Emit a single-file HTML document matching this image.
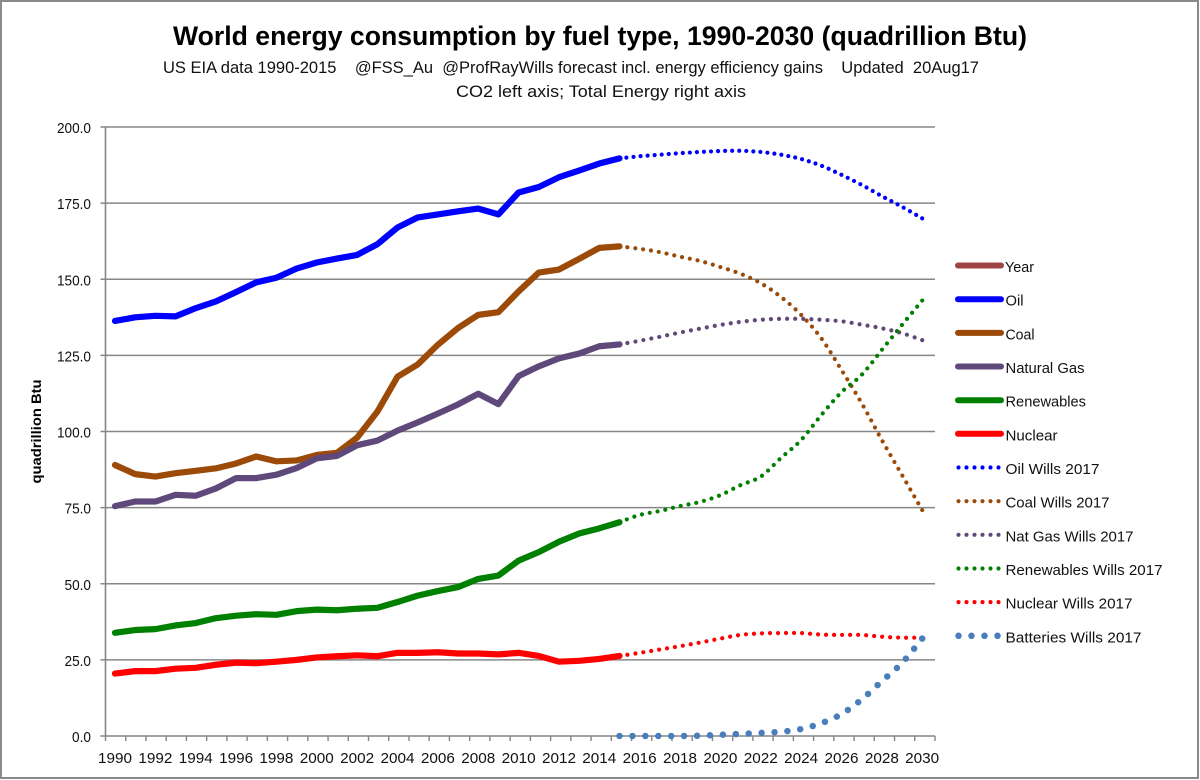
<!DOCTYPE html>
<html lang="en">
<head>
<meta charset="utf-8">
<title>World energy consumption by fuel type</title>
<style>
html,body{margin:0;padding:0;background:#fff;}
svg{display:block;font-family:"Liberation Sans",sans-serif;fill:#111;}
</style>
</head>
<body>
<svg id="chart" width="1200" height="780" viewBox="0 0 1200 780" xmlns="http://www.w3.org/2000/svg">
  <rect x="1" y="1" width="1197" height="777" fill="#fff" stroke="#8a8a8a" stroke-width="2"/>
  <text x="600" y="45" text-anchor="middle" font-size="27" font-weight="bold" fill="#000" textLength="854" lengthAdjust="spacingAndGlyphs">World energy consumption by fuel type, 1990-2030 (quadrillion Btu)</text>
  <text x="571" y="73" text-anchor="middle" font-size="17" textLength="816" lengthAdjust="spacingAndGlyphs" xml:space="preserve">US EIA data 1990-2015    @FSS_Au  @ProfRayWills forecast incl. energy efficiency gains    Updated  20Aug17</text>
  <text x="601" y="97" text-anchor="middle" font-size="17" textLength="290" lengthAdjust="spacingAndGlyphs">CO2 left axis; Total Energy right axis</text>
  <text transform="translate(41 431.5) rotate(-90)" text-anchor="middle" font-size="14" font-weight="bold" fill="#000" textLength="104" lengthAdjust="spacingAndGlyphs">quadrillion Btu</text>
  <g id="grid"></g>
  <g id="axes"></g>
  <g id="series"></g>
  <g font-size="15">
    <g><line x1="958" x2="1001" y1="265.5" y2="265.5" stroke="#a04545" stroke-width="6" stroke-linecap="round"/><text x="1005" y="272" textLength="29" lengthAdjust="spacingAndGlyphs">Year</text></g>
    <g><line x1="958" x2="1001" y1="299.2" y2="299.2" stroke="#0000ff" stroke-width="6" stroke-linecap="round"/><text x="1005.5" y="305.7" textLength="18" lengthAdjust="spacingAndGlyphs">Oil</text></g>
    <g><line x1="958" x2="1001" y1="332.9" y2="332.9" stroke="#9c4a07" stroke-width="6" stroke-linecap="round"/><text x="1005.5" y="339.4" textLength="29" lengthAdjust="spacingAndGlyphs">Coal</text></g>
    <g><line x1="958" x2="1001" y1="366.5" y2="366.5" stroke="#5f497a" stroke-width="6" stroke-linecap="round"/><text x="1005.5" y="373" textLength="79" lengthAdjust="spacingAndGlyphs">Natural Gas</text></g>
    <g><line x1="958" x2="1001" y1="400.2" y2="400.2" stroke="#008000" stroke-width="6" stroke-linecap="round"/><text x="1005.5" y="406.7" textLength="80.5" lengthAdjust="spacingAndGlyphs">Renewables</text></g>
    <g><line x1="958" x2="1001" y1="433.8" y2="433.8" stroke="#ff0000" stroke-width="6" stroke-linecap="round"/><text x="1005.5" y="440.3" textLength="52" lengthAdjust="spacingAndGlyphs">Nuclear</text></g>
    <g><line x1="958.5" x2="1001" y1="467.5" y2="467.5" stroke="#0000ff" stroke-width="4.2" stroke-linecap="round" stroke-dasharray="0 8"/><text x="1005.5" y="474" textLength="94" lengthAdjust="spacingAndGlyphs">Oil Wills 2017</text></g>
    <g><line x1="958.5" x2="1001" y1="501.2" y2="501.2" stroke="#9c4a07" stroke-width="4.2" stroke-linecap="round" stroke-dasharray="0 8"/><text x="1005.5" y="507.7" textLength="104" lengthAdjust="spacingAndGlyphs">Coal Wills 2017</text></g>
    <g><line x1="958.5" x2="1001" y1="534.8" y2="534.8" stroke="#5f497a" stroke-width="4.2" stroke-linecap="round" stroke-dasharray="0 8"/><text x="1005.5" y="541.3" textLength="128" lengthAdjust="spacingAndGlyphs">Nat Gas Wills 2017</text></g>
    <g><line x1="958.5" x2="1001" y1="568.5" y2="568.5" stroke="#008000" stroke-width="4.2" stroke-linecap="round" stroke-dasharray="0 8"/><text x="1005.5" y="575" textLength="157" lengthAdjust="spacingAndGlyphs">Renewables Wills 2017</text></g>
    <g><line x1="958.5" x2="1001" y1="602.1" y2="602.1" stroke="#ff0000" stroke-width="4.2" stroke-linecap="round" stroke-dasharray="0 8"/><text x="1005.5" y="608.6" textLength="127" lengthAdjust="spacingAndGlyphs">Nuclear Wills 2017</text></g>
    <g><line x1="958.5" x2="998" y1="635.8" y2="635.8" stroke="#4a7ebb" stroke-width="6.5" stroke-linecap="round" stroke-dasharray="0 13"/><text x="1005.5" y="642.3" textLength="136" lengthAdjust="spacingAndGlyphs">Batteries Wills 2017</text></g>
  </g>
</svg>
<script>
const firstYear = 1990;
const yearCount = 41;
const forecastStartYear = 2015;
const yTickValues = [0, 25, 50, 75, 100, 125, 150, 175, 200];
const xTickLabels = [1990,1992,1994,1996,1998,2000,2002,2004,2006,2008,2010,2012,2014,2016,2018,2020,2022,2024,2026,2028,2030];

const oilHistory = [136.3,137.5,138,137.8,140.5,142.7,145.8,149,150.5,153.5,155.5,156.8,158,161.5,167,170.3,171.3,172.3,173.2,171.3,178.5,180.3,183.5,185.7,188,189.7];
const coalHistory = [89,86,85.2,86.3,87.1,87.9,89.5,91.8,90.2,90.5,92.3,93,98,106.5,118,122,128.5,134,138.3,139.2,146,152.2,153.2,156.7,160.3,160.8];
const gasHistory = [75.5,77,77,79.2,78.9,81.3,84.7,84.7,85.8,88,91.2,92,95.5,97,100.3,103,105.9,108.9,112.4,109,118.2,121.4,124,125.6,128,128.6];
const renewablesHistory = [33.9,34.8,35.1,36.3,37.1,38.7,39.5,40,39.8,41,41.5,41.3,41.8,42.1,44,46.1,47.6,48.9,51.6,52.7,57.6,60.4,63.8,66.5,68.2,70.2];
const nuclearHistory = [20.5,21.3,21.3,22.1,22.4,23.4,24.1,23.9,24.4,25,25.8,26.2,26.5,26.2,27.3,27.3,27.5,27.1,27.1,26.8,27.3,26.3,24.4,24.7,25.3,26.3];

const oilForecast = [189.7,190.4,190.9,191.4,191.8,192.1,192.2,191.8,190.9,189.5,187.3,184.3,181,177.3,173.8,170];
const coalForecast = [160.8,160,158.9,157.4,156,154,151.8,148.7,144.2,138.3,130.6,120.2,109.3,97.2,85.7,74.2];
const gasForecast = [128.6,129.8,131.1,132.5,133.8,135,136,136.7,137,137,136.7,136.2,135.1,133.9,132.3,130];
const renewablesForecast = [70.2,72.6,73.9,75.5,76.9,79.1,82.4,85.2,91.3,97.2,105.4,112.9,118.6,126.8,135,143];
const nuclearForecast = [26.3,27.3,28.4,29.5,30.7,32,33.2,33.7,33.8,33.8,33.3,33.2,33.2,32.6,32.3,32.3];
const batteriesForecast = [0,0,0,0,0.1,0.4,0.7,1,1.4,2.3,4.2,7.2,12,18,24,32];

const NS = 'http://www.w3.org/2000/svg';
const plotLeft = 105.5, plotRight = 935, plotTop = 127, plotBottom = 736;
const yMax = 200;
function xPoint(year) { return 115 + (year - firstYear) * 20.18; }
function yScale(v) { return plotBottom - (v / yMax) * (plotBottom - plotTop); }
function make(tag, parent) {
  const el = document.createElementNS(NS, tag);
  parent.appendChild(el);
  return el;
}
function setAll(el, attrs) {
  for (const k in attrs) el.setAttribute(k, attrs[k]);
}

const gridG = document.getElementById('grid');
const axesG = document.getElementById('axes');
const seriesG = document.getElementById('series');

yTickValues.forEach(function (v) {
  const y = yScale(v);
  const line = make('line', gridG);
  
  
  setAll(line, { x1: 100.5, x2: plotRight, y1: y, y2: y, stroke: '#868686', 'stroke-width': 1.6 });
  const label = make('text', axesG);
  
  
  const txt = v.toFixed(1);
  setAll(label, { x: 91, y: y + 6, 'text-anchor': 'end', 'font-size': 15, textLength: txt.length === 5 ? 34 : txt.length === 4 ? 26.5 : 19, lengthAdjust: 'spacingAndGlyphs' });
  label.textContent = txt;
});

const yAxis = make('line', axesG);


setAll(yAxis, { x1: plotLeft, x2: plotLeft, y1: plotTop, y2: plotBottom, stroke: '#868686', 'stroke-width': 1.6 });

for (let i = 0; i <= yearCount; i++) {
  const x = plotLeft + i * (plotRight - plotLeft) / yearCount;
  const tick = make('line', axesG);
  
  
  setAll(tick, { x1: x, x2: x, y1: plotBottom, y2: plotBottom + 5, stroke: '#868686', 'stroke-width': 1.4 });
}

xTickLabels.forEach(function (yr) {
  const label = make('text', axesG);
  
  
  setAll(label, { x: xPoint(yr), y: 763, 'text-anchor': 'middle', 'font-size': 15, textLength: 34, lengthAdjust: 'spacingAndGlyphs' });
  label.textContent = yr;
});

function drawLine(values, startYear, color, width, name) {
  const pts = values.map(function (v, i) {
    return xPoint(startYear + i).toFixed(2) + ',' + yScale(v).toFixed(2);
  }).join(' ');
  const line = make('polyline', seriesG);
  
  
  setAll(line, { points: pts, fill: 'none', stroke: color, 'stroke-width': width, 'stroke-linecap': 'round', 'stroke-linejoin': 'round' });
}

function drawSmoothDotted(values, startYear, color, width, spacing, name) {
  const p = values.map(function (v, i) { return [xPoint(startYear + i), yScale(v)]; });
  let d = 'M' + p[0][0].toFixed(2) + ' ' + p[0][1].toFixed(2);
  for (let i = 0; i < p.length - 1; i++) {
    const a = p[Math.max(i - 1, 0)], b = p[i], c = p[i + 1], e = p[Math.min(i + 2, p.length - 1)];
    const c1x = b[0] + (c[0] - a[0]) / 6, c1y = b[1] + (c[1] - a[1]) / 6;
    const c2x = c[0] - (e[0] - b[0]) / 6, c2y = c[1] - (e[1] - b[1]) / 6;
    d += 'C' + c1x.toFixed(2) + ' ' + c1y.toFixed(2) + ' ' + c2x.toFixed(2) + ' ' + c2y.toFixed(2) + ' ' + c[0].toFixed(2) + ' ' + c[1].toFixed(2);
  }
  const path = make('path', seriesG);
  
  
  setAll(path, { d: d, fill: 'none', stroke: color, 'stroke-width': width, 'stroke-linecap': 'round' });
  const len = path.getTotalLength();
  const step = len / Math.round(len / spacing) - 0.001;
  path.setAttribute('stroke-dasharray', '0 ' + step.toFixed(3));
}

drawSmoothDotted(oilForecast, forecastStartYear, '#0000ff', 4.2, 7.1, 'oil-forecast-line');
drawSmoothDotted(coalForecast, forecastStartYear, '#9c4a07', 4.2, 8, 'coal-forecast-line');
drawSmoothDotted(gasForecast, forecastStartYear, '#5f497a', 4.2, 8, 'gas-forecast-line');
drawSmoothDotted(renewablesForecast, forecastStartYear, '#008000', 4.2, 8, 'renewables-forecast-line');
drawSmoothDotted(nuclearForecast, forecastStartYear, '#ff0000', 4.2, 8, 'nuclear-forecast-line');
drawSmoothDotted(batteriesForecast, forecastStartYear, '#4a7ebb', 6.5, 13, 'batteries-forecast-line');
drawLine(oilHistory, firstYear, '#0000ff', 6.2, 'oil-line');
drawLine(coalHistory, firstYear, '#9c4a07', 6.2, 'coal-line');
drawLine(gasHistory, firstYear, '#5f497a', 6.2, 'natural-gas-line');
drawLine(renewablesHistory, firstYear, '#008000', 6.2, 'renewables-line');
drawLine(nuclearHistory, firstYear, '#ff0000', 6.2, 'nuclear-line');
</script>
</body>
</html>
